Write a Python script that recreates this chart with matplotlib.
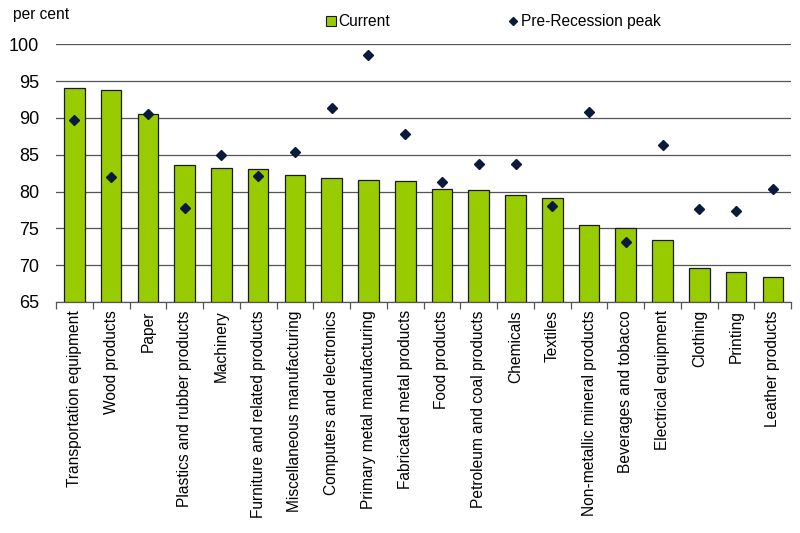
import matplotlib
matplotlib.use("Agg")
import matplotlib.pyplot as plt
from matplotlib.lines import Line2D
from matplotlib.patches import Patch
import numpy as np

categories = ["Transportation equipment", "Wood products", "Paper",
              "Plastics and rubber products", "Machinery",
              "Furniture and related products", "Miscellaneous manufacturing",
              "Computers and electronics", "Primary metal manufacturing",
              "Fabricated metal products", "Food products",
              "Petroleum and coal products", "Chemicals", "Textiles",
              "Non-metallic mineral products", "Beverages and tobacco",
              "Electrical equipment", "Clothing", "Printing", "Leather products"]
current = [94.1, 93.8, 90.6, 83.6, 83.2, 83.1, 82.3, 81.9, 81.6, 81.4,
           80.3, 80.2, 79.5, 79.1, 75.4, 75.0, 73.4, 69.6, 69.1, 68.4]
peak = [89.7, 82.0, 90.6, 77.8, 85.0, 82.1, 85.4, 91.3, 98.5, 87.8,
        81.3, 83.7, 83.8, 78.0, 90.8, 73.2, 86.3, 77.6, 77.3, 80.3]
yticks = [65, 70, 75, 80, 85, 90, 95, 100]

plt.rcParams['font.family'] = ['Liberation Sans', 'DejaVu Sans']

fig = plt.figure(figsize=(8, 5.33), dpi=100)
ax = fig.add_axes([0.07, 0.4334, 0.919, 0.4835])

x = np.arange(len(categories))
bar_color = '#99cc00'
mk_color = '#0b1a3a'
ax.bar(x, [c - 65 for c in current], bottom=65, width=0.56, color=bar_color,
       edgecolor='#1a1a1a', linewidth=0.9, zorder=3)
ax.plot(x, peak, linestyle='none', marker='D', markersize=5.5,
        color=mk_color, zorder=4)

ax.set_xlim(-0.5, len(categories) - 0.5)
ax.set_ylim(65, 100)
ax.set_yticks(yticks)
ax.set_yticklabels([str(v) for v in yticks], fontsize=13)
ax.yaxis.grid(True, color='#555555', linewidth=0.9, zorder=0)
ax.set_axisbelow(True)
ax.tick_params(axis='y', length=0, pad=12)

ax.set_xticks(x)
ax.set_xticklabels(categories, rotation=90, fontsize=11.2)
ax.set_xticks(np.arange(-0.5, len(categories), 1.0), minor=True)
ax.tick_params(axis='x', which='major', length=0, pad=6)
ax.tick_params(axis='x', which='minor', length=5, color='#555555', width=0.9)

for s in ['top', 'right', 'left']:
    ax.spines[s].set_visible(False)
ax.spines['bottom'].set_color('#555555')
ax.spines['bottom'].set_linewidth(0.9)

fig.text(0.016, 0.973, "per cent", fontsize=11.2, ha='left', va='center')

handles = [Patch(facecolor=bar_color, edgecolor='#1a1a1a', linewidth=0.8),
           Line2D([], [], linestyle='none', marker='D', markersize=4.5, color=mk_color)]
fig.legend(handles, ["Current", "Pre-Recession peak"], loc='center',
           bbox_to_anchor=(0.617, 0.959), ncol=2, frameon=False, fontsize=11.2,
           handlelength=0.6, handleheight=0.6, handletextpad=0.2, columnspacing=7.6)

fig.savefig("out.png", dpi=100)
